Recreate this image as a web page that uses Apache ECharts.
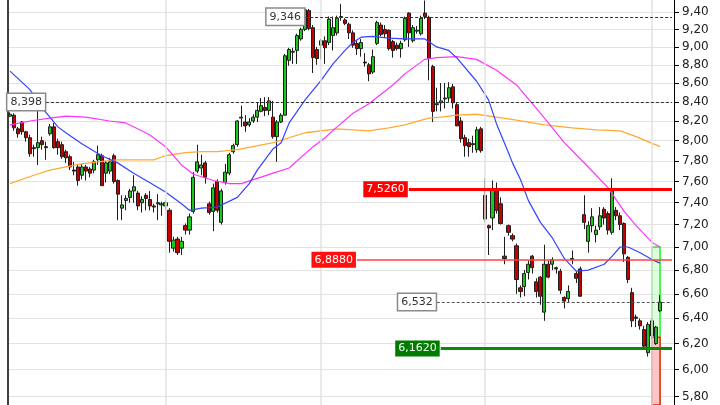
<!DOCTYPE html>
<html><head><meta charset="utf-8">
<script src="https://cdn.jsdelivr.net/npm/echarts@6/dist/echarts.min.js"></script>
<style>html,body{margin:0;padding:0;background:#fff}#c{width:720px;height:405px}</style>
</head><body><div id="c"></div>
<script>
// ---- data ----
const opens  = [8.25,8.26,8.12,8.19,8.09,8.03,7.93,7.93,8.00,7.94,8.07,8.14,7.99,7.96,7.89,7.84,7.71,7.74,7.66,7.74,7.72,7.71,7.81,7.85,7.68,7.70,7.85,7.61,7.35,7.42,7.45,7.51,7.49,7.40,7.47,7.43,7.37,7.40,7.38,7.37,7.33,6.99,7.07,6.99,7.19,7.15,7.32,7.70,7.73,7.78,7.39,7.32,7.60,7.22,7.59,7.68,7.89,7.96,8.23,8.19,8.16,8.20,8.24,8.30,8.34,8.31,8.24,8.04,8.19,8.26,8.85,8.94,8.96,9.09,9.20,9.42,9.22,8.97,9.02,9.07,9.05,9.13,9.16,9.34,9.31,9.26,9.16,9.04,8.98,8.83,8.80,8.72,9.04,9.25,9.20,9.19,9.06,9.02,8.98,9.08,9.39,9.07,9.18,9.15,9.39,9.34,8.78,8.38,8.39,8.43,8.44,8.56,8.37,8.20,8.03,7.98,7.97,7.91,8.12,7.47,7.19,7.26,7.53,7.39,6.92,7.19,7.10,7.01,6.65,6.66,6.78,6.92,6.70,6.74,6.45,6.85,6.85,6.82,6.79,6.57,6.56,6.90,6.77,6.81,7.29,7.05,7.19,7.11,7.18,7.34,7.30,7.13,7.33,7.28,7.21,6.91,6.61,6.41,6.38,6.31,6.13,6.26,6.20,6.46];
const closes = [8.27,8.13,8.07,8.09,8.03,7.87,7.92,7.98,7.96,7.93,8.14,7.93,7.93,7.84,7.83,7.74,7.70,7.61,7.74,7.70,7.68,7.79,7.86,7.56,7.78,7.79,7.60,7.48,7.38,7.44,7.51,7.55,7.37,7.43,7.44,7.37,7.36,7.39,7.39,7.40,7.05,7.06,6.95,7.05,7.15,7.27,7.64,7.79,7.76,7.64,7.31,7.54,7.33,7.51,7.69,7.86,7.95,8.20,8.24,8.15,8.19,8.24,8.31,8.36,8.31,8.41,8.04,8.19,8.26,8.90,8.97,8.95,9.13,9.20,9.43,9.21,8.88,8.87,9.07,8.99,9.32,9.22,9.33,9.35,9.27,9.16,9.02,8.98,9.05,8.82,8.70,8.89,9.28,9.14,9.15,8.98,8.96,8.98,9.04,9.33,9.16,9.22,9.19,9.33,9.35,8.87,8.30,8.37,8.41,8.44,8.55,8.39,8.15,8.02,7.95,7.94,7.96,8.11,7.90,7.25,7.17,7.53,7.33,7.21,6.90,7.13,7.07,6.72,6.62,6.77,6.85,6.82,6.62,6.58,6.85,6.74,6.89,6.81,6.63,6.54,6.62,6.89,6.73,6.58,7.22,7.19,7.27,7.15,7.28,7.26,7.15,7.51,7.28,7.20,6.94,6.72,6.38,6.40,6.34,6.18,6.35,6.38,6.33,6.532];
const lows   = [8.24,8.10,8.03,8.06,7.99,7.84,7.84,7.76,7.91,7.81,8.05,7.92,7.86,7.82,7.78,7.71,7.66,7.56,7.62,7.61,7.64,7.68,7.76,7.56,7.59,7.67,7.58,7.24,7.24,7.33,7.40,7.40,7.33,7.31,7.33,7.33,7.31,7.24,7.28,7.33,6.95,6.96,6.93,6.93,7.11,7.11,7.30,7.68,7.66,7.58,7.29,7.14,7.31,7.20,7.57,7.66,7.87,7.94,8.14,8.09,8.14,8.18,8.19,8.29,8.25,8.26,8.02,7.79,8.18,8.26,8.79,8.81,8.81,9.07,9.18,9.19,8.71,8.80,8.86,8.81,9.02,8.96,9.13,9.30,9.25,9.09,8.99,8.91,8.89,8.78,8.62,8.70,9.02,9.12,9.10,8.96,8.88,8.96,8.88,9.06,9.00,9.05,9.15,9.13,9.32,8.63,8.19,8.30,8.30,8.33,8.40,8.33,8.15,7.98,7.84,7.84,7.88,7.88,7.88,7.22,6.93,7.15,7.30,7.20,6.85,7.10,7.05,6.60,6.57,6.58,6.72,6.77,6.57,6.51,6.38,6.73,6.80,6.77,6.60,6.48,6.53,6.85,6.69,6.58,7.16,6.95,7.13,7.04,7.15,7.20,7.11,7.11,7.24,7.15,6.87,6.69,6.33,6.33,6.31,6.16,6.10,6.23,6.19,6.45];
const highs  = [8.29,8.28,8.14,8.20,8.10,8.06,7.96,8.33,8.04,7.99,8.17,8.18,8.02,7.99,7.91,7.86,7.79,7.77,7.77,7.76,7.74,7.81,7.95,7.87,7.80,7.83,7.87,7.62,7.47,7.47,7.53,7.66,7.51,7.46,7.49,7.51,7.39,7.48,7.41,7.42,7.35,7.09,7.09,7.09,7.21,7.30,7.69,7.96,7.86,7.80,7.41,7.58,7.62,7.53,7.77,7.88,7.97,8.21,8.36,8.26,8.23,8.27,8.39,8.44,8.45,8.45,8.41,8.21,8.28,8.92,8.99,8.99,9.15,9.22,9.45,9.44,9.25,9.00,9.09,9.12,9.35,9.35,9.36,9.50,9.33,9.28,9.19,9.07,9.09,8.93,8.82,8.97,9.30,9.28,9.25,9.20,9.08,9.05,9.07,9.35,9.40,9.25,9.24,9.36,9.54,9.36,8.80,8.55,8.60,8.60,8.61,8.59,8.39,8.24,8.06,8.02,8.05,8.14,8.14,7.63,7.20,7.61,7.59,7.45,7.09,7.20,7.12,7.03,6.67,6.80,6.88,6.93,6.73,6.75,7.02,6.88,6.91,6.83,6.81,6.58,6.67,6.97,6.79,6.83,7.47,7.23,7.35,7.19,7.36,7.36,7.32,7.63,7.36,7.31,7.22,6.92,6.65,6.43,6.40,6.34,6.37,6.40,6.34,6.59];

// moving averages, sampled as [session index, value]
const maFast = [[0,8.73],[5,8.53],[8,8.34],[10,8.24],[12,8.14],[14,8.08],[18,7.97],[23,7.85],[27,7.78],[31,7.68],[35,7.59],[39,7.50],[43,7.39],[45,7.33],[48,7.35],[52,7.36],[57,7.45],[60,7.58],[62,7.71],[66,7.92],[68,7.98],[70,8.18],[74,8.42],[78,8.63],[81,8.81],[84,8.96],[86,9.05],[88,9.11],[91,9.12],[95,9.10],[99,9.09],[104,9.09],[107,9.00],[110,8.96],[112,8.88],[117,8.62],[120,8.42],[122,8.17],[125,7.88],[126,7.78],[128,7.62],[130,7.42],[133,7.22],[136,7.08],[139,6.90],[142,6.79],[145,6.80],[149,6.85],[151,6.92],[153,7.00],[155,7.00],[158,6.95],[161,6.89],[163,6.86]];
const maMid = [[0,8.16],[5,8.20],[10,8.23],[14,8.25],[19,8.24],[25,8.20],[29,8.18],[32,8.12],[35,8.06],[39,7.94],[43,7.76],[46,7.67],[51,7.61],[55,7.58],[58,7.58],[66,7.68],[70,7.73],[76,7.94],[79,8.03],[82,8.14],[86,8.28],[90,8.38],[96,8.58],[99,8.70],[104,8.86],[107,8.88],[112,8.89],[117,8.86],[122,8.74],[127,8.58],[131,8.38],[135,8.18],[139,7.98],[145,7.74],[150,7.54],[154,7.32],[157,7.19],[161,7.04],[163,7.00]];
const maSlow = [[0,7.58],[6,7.66],[10,7.71],[14,7.74],[18,7.77],[22,7.79],[27,7.81],[36,7.81],[39,7.85],[44,7.88],[48,7.89],[52,7.89],[57,7.91],[66,7.98],[74,8.08],[82,8.12],[90,8.10],[95,8.13],[99,8.16],[105,8.23],[108,8.24],[112,8.26],[117,8.27],[122,8.24],[127,8.21],[134,8.16],[141,8.13],[147,8.11],[153,8.10],[157,8.04],[163,7.94]];

// price levels drawn as horizontal lines
const levelValues = [9.346, 8.398, 7.526, 6.888, 6.532, 6.162];
const levelTexts  = ['9,346', '8,398', '7,5260', '6,8880', '6,532', '6,1620'];

// projected ranges (top values of the green and red boxes)
const rangeTops = [7.00, 6.25];

// right axis tick labels
const yTicks = [5.8,6.0,6.2,6.4,6.6,6.8,7.0,7.2,7.4,7.6,7.8,8.0,8.2,8.4,8.6,8.8,9.0,9.2,9.4];

// month boundaries (session index)
const monthStarts = [39, 78, 119, 161];

const N_SLOTS = 167; // 164 sessions + 3 empty slots at the right
const categories = Array.from({length: N_SLOTS}, (_, i) => String(i + 1));

// ---- chart ----
const L = Math.log;
const yMin = 5.74, yMax = 9.546;
const candleData = opens.map((o, i) => [L(o), L(closes[i]), L(lows[i]), L(highs[i])]);
const toLn = arr => arr.map(p => [p[0], L(p[1])]);
const tickLn = yTicks.map(L);
const FONT = 'DejaVu Sans';

const levelStyles = [
  {start: 74, line: {color: '#333', width: 1, type: [3, 2]}, lbl: {backgroundColor: '#fff', borderColor: '#8a8a8a', borderWidth: 1.5, color: '#333'}},
  {start: 9,  line: {color: '#333', width: 1, type: [3, 2]}, lbl: {backgroundColor: '#fff', borderColor: '#8a8a8a', borderWidth: 1.5, color: '#333'}},
  {start: 100, line: {color: '#ff0000', width: 3, type: 'solid'}, lbl: {backgroundColor: '#ff0000', color: '#fff'}},
  {start: 87, line: {color: '#ff4040', width: 1.5, type: 'solid'}, lbl: {backgroundColor: '#ff1010', color: '#fff'}},
  {start: 107, line: {color: '#555', width: 1, type: [3, 2]}, lbl: {backgroundColor: '#fff', borderColor: '#8a8a8a', borderWidth: 1.5, color: '#333'}},
  {start: 108, line: {color: '#0a8a0a', width: 3, type: 'solid'}, lbl: {backgroundColor: '#007d00', color: '#fff'}}
];

const levelLines = levelValues.map((v, k) => {
  const s = levelStyles[k];
  return [
    {coord: [categories[s.start], L(v)], lineStyle: s.line,
     label: Object.assign({show: true, position: 'start', distance: 1, formatter: levelTexts[k],
       fontFamily: FONT, fontSize: 11, padding: [2, 3, 1, 3], lineHeight: 13}, s.lbl)},
    {coord: [categories[N_SLOTS - 1], L(v)]}
  ];
});

const chart = echarts.init(document.getElementById('c'), null, {renderer: 'canvas'});
chart.setOption({
  animation: false,
  backgroundColor: '#ffffff',
  grid: {left: 8, right: 46, top: 0, bottom: 0},
  xAxis: {type: 'category', data: categories, boundaryGap: true, show: false},
  yAxis: [
    {type: 'value', position: 'right', min: L(yMin), max: L(yMax), scale: true,
     axisLine: {show: true, lineStyle: {color: '#000', width: 1}},
     axisTick: {show: true, length: 5, inside: false, customValues: tickLn, lineStyle: {color: '#000'}},
     axisLabel: {show: true, customValues: tickLn, margin: 8, color: '#222', fontFamily: FONT, fontSize: 12,
       formatter: v => Math.exp(v).toFixed(2).replace('.', ',')},
     splitLine: {show: true, customValues: tickLn, lineStyle: {color: '#e2e2e2', width: 1}}},
    {type: 'value', position: 'left', min: L(yMin), max: L(yMax),
     axisLine: {show: true, onZero: false, lineStyle: {color: '#000', width: 1.5}},
     axisTick: {show: false}, axisLabel: {show: false}, splitLine: {show: false}}
  ],
  series: [
    {type: 'line', data: [], z: 1, silent: true,
     markLine: {silent: true, symbol: ['none', 'none'], label: {show: false},
       lineStyle: {color: '#e2e2e2', width: 1.5, type: 'solid'},
       data: monthStarts.map(i => ({xAxis: categories[i]}))},
     markArea: {silent: true, data: [
       [{coord: [categories[161], L(rangeTops[0])], itemStyle: {color: 'rgba(200,255,200,0.6)', borderColor: '#22ee22', borderWidth: 1.5}},
        {coord: [categories[163], L(yMin)]}]
     ]}},
    {type: 'line', data: [], z: 2, silent: true,
     markArea: {silent: true, data: [
       [{coord: [categories[161], L(rangeTops[1])], itemStyle: {color: '#ffc4c4', opacity: 1, borderColor: '#ff1a1a', borderWidth: 1.5}},
        {coord: [categories[163], L(yMin)]}]
     ]}},
    {type: 'candlestick', data: candleData, z: 3, barWidth: 3.6,
     itemStyle: {color: '#19c819', color0: '#c40000', borderColor: '#1e1e1e', borderColor0: '#1e1e1e', borderWidth: 1}},
    {type: 'line', data: toLn(maSlow), z: 4, symbol: 'none', connectNulls: true, lineStyle: {color: '#ffaa33', width: 1.3}},
    {type: 'line', data: toLn(maMid), z: 4, symbol: 'none', connectNulls: true, lineStyle: {color: '#ff33ff', width: 1.2}},
    {type: 'line', data: toLn(maFast), z: 4, symbol: 'none', connectNulls: true, lineStyle: {color: '#3344ff', width: 1.2}},
    {type: 'line', data: [], z: 6, silent: true,
     markLine: {silent: true, symbol: ['none', 'none'], data: levelLines}}
  ]
});
</script>
</body></html>
